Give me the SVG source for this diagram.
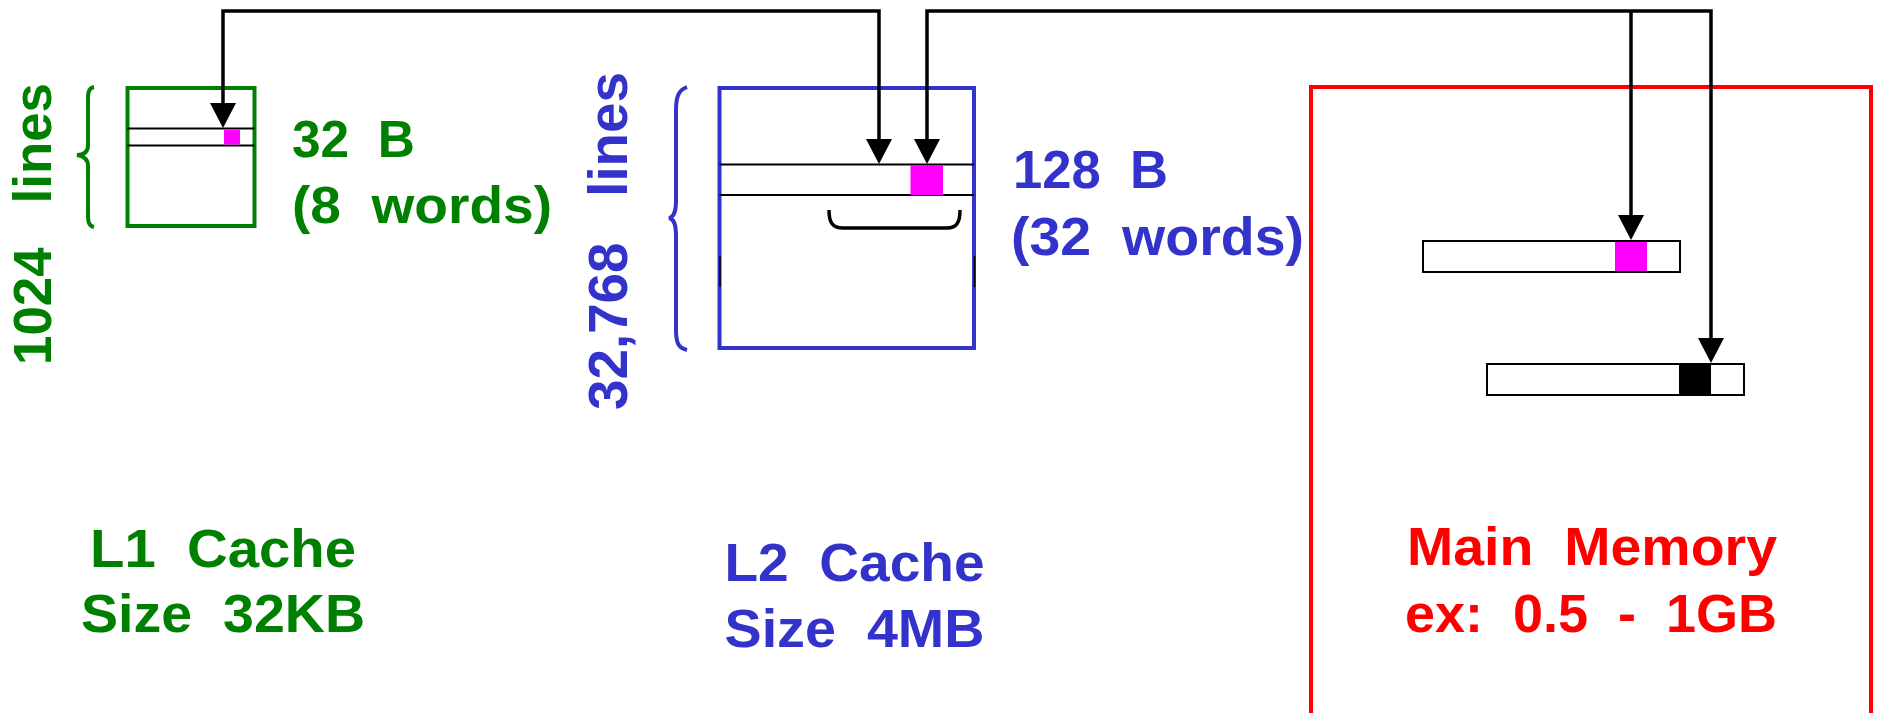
<svg xmlns="http://www.w3.org/2000/svg" width="1877" height="713" viewBox="0 0 1877 713">
<style>
text{font-family:"Liberation Sans",Arial,sans-serif;font-weight:bold;white-space:pre;}
.g{fill:#008000}.b{fill:#3333CC}.r{fill:#FF0000}
.conn{fill:none;stroke:#000;stroke-width:3.5;marker-end:url(#ah)}
.row{stroke:#000;stroke-width:2}
.bar{fill:#fff;stroke:#000;stroke-width:2}
.brace{fill:none;stroke-width:4}
</style>
<defs>
<marker id="ah" markerUnits="userSpaceOnUse" markerWidth="26" markerHeight="26" refX="20" refY="13" orient="auto-start-reverse" viewBox="0 0 26 26">
<path d="M0,0 L25,13 L0,26 z" fill="#000"/>
</marker>
</defs>
<rect width="1877" height="713" fill="#fff"/>

<g id="l1-cache">
<rect x="127.5" y="88" width="127" height="138" fill="#fff" stroke="#008000" stroke-width="4"/>
<line class="row" x1="127.5" y1="128.5" x2="254.5" y2="128.5"/>
<line class="row" x1="127.5" y1="145.5" x2="254.5" y2="145.5"/>
<rect x="224" y="129.5" width="16" height="15" fill="#FF00FF"/>
<path class="brace" stroke="#008000" d="M94,87 C88,88 88,94 88,100 V145 C88,152 84,155 77,155 C84,156 88,159 88,166 V214 C88,220 88,226 94,227"/>
<text xml:space="preserve" class="g" font-size="54" text-anchor="middle" transform="translate(51,224) rotate(-90)" textLength="282" lengthAdjust="spacingAndGlyphs">1024   lines</text>
<text xml:space="preserve" class="g" font-size="52" x="292" y="157" textLength="123" lengthAdjust="spacingAndGlyphs">32  B</text>
<text xml:space="preserve" class="g" font-size="52" x="292" y="223" textLength="260" lengthAdjust="spacingAndGlyphs">(8  words)</text>
<text xml:space="preserve" class="g" font-size="54" x="223" y="567" text-anchor="middle" textLength="266" lengthAdjust="spacingAndGlyphs">L1  Cache</text>
<text xml:space="preserve" class="g" font-size="54" x="223" y="632" text-anchor="middle" textLength="284" lengthAdjust="spacingAndGlyphs">Size  32KB</text>
</g>

<g id="l2-cache">
<rect x="719.5" y="88" width="254.5" height="260" fill="#fff" stroke="#3333CC" stroke-width="4"/>
<line class="row" x1="719.5" y1="164.5" x2="974" y2="164.5"/>
<line class="row" x1="719.5" y1="195" x2="974" y2="195"/>
<rect x="910.5" y="165" width="32.5" height="30" fill="#FF00FF"/>
<line x1="720" y1="256" x2="720" y2="287" stroke="#000" stroke-width="1.5"/>
<line x1="974.5" y1="256" x2="974.5" y2="287" stroke="#000" stroke-width="1.5"/>
<path d="M829,210 C829,222 832,228 843,228 H947 C957,228 960,222 960,210" fill="none" stroke="#000" stroke-width="3.5"/>
<path class="brace" stroke="#3333CC" d="M687,87 C679,90 676,96 676,110 V200 C676,212 674,217 669,218 C674,219 676,224 676,236 V330 C676,344 679,348 687,350"/>
<text xml:space="preserve" class="b" font-size="55" text-anchor="middle" transform="translate(627,241) rotate(-90)" textLength="338" lengthAdjust="spacingAndGlyphs">32,768   lines</text>
<text xml:space="preserve" class="b" font-size="53" x="1013" y="188" textLength="155" lengthAdjust="spacingAndGlyphs">128  B</text>
<text xml:space="preserve" class="b" font-size="53" x="1011" y="255" textLength="293" lengthAdjust="spacingAndGlyphs">(32  words)</text>
<text xml:space="preserve" class="b" font-size="54" x="854.5" y="581" text-anchor="middle" textLength="260" lengthAdjust="spacingAndGlyphs">L2  Cache</text>
<text xml:space="preserve" class="b" font-size="54" x="854.5" y="647" text-anchor="middle" textLength="260" lengthAdjust="spacingAndGlyphs">Size  4MB</text>
</g>

<g id="main-memory">
<rect x="1311" y="87" width="560" height="700" fill="none" stroke="#FF0000" stroke-width="4"/>
<rect class="bar" x="1423" y="241" width="257" height="31"/>
<rect x="1615" y="242" width="32" height="29" fill="#FF00FF"/>
<rect class="bar" x="1487" y="364" width="257" height="31"/>
<rect x="1679" y="365" width="32" height="29" fill="#000"/>
<text xml:space="preserve" class="r" font-size="54" x="1592" y="565" text-anchor="middle" textLength="370" lengthAdjust="spacingAndGlyphs">Main  Memory</text>
<text xml:space="preserve" class="r" font-size="54" x="1591" y="632" text-anchor="middle" textLength="372" lengthAdjust="spacingAndGlyphs">ex:  0.5  -  1GB</text>
</g>

<g id="connectors">
<path class="conn" style="marker-start:url(#ah)" d="M223,123 V11 H879 V159"/>
<path class="conn" style="marker-start:url(#ah)" d="M927,159 V11 H1711 V358"/>
<path class="conn" d="M1631,11 V235"/>
</g>
</svg>
